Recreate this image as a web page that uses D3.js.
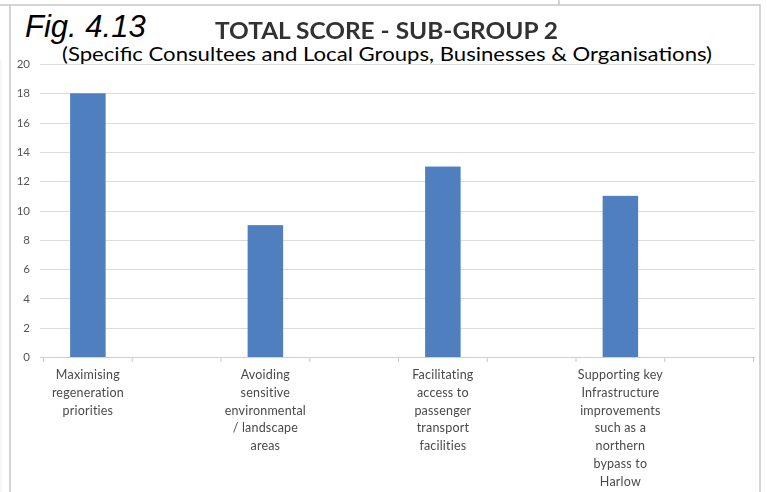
<!DOCTYPE html>
<html>
<head>
<meta charset="utf-8">
<script src="https://cdn.jsdelivr.net/npm/d3@7/dist/d3.min.js"></script>
<style>
  html, body { margin: 0; padding: 0; background: #fff; }
  svg { display: block; }
</style>
</head>
<body>
<svg id="chart" width="767" height="492"></svg>
<script>
// Category slots (the blank slots sit between the scored options)
const categories = [
  "Maximising\nregeneration\npriorities",
  "",
  "Avoiding\nsensitive\nenvironmental\n/ landscape\nareas",
  "",
  "Facilitating\naccess to\npassenger\ntransport\nfacilities",
  "",
  "Supporting key\nInfrastructure\nimprovements\nsuch as a\nnorthern\nbypass to\nHarlow",
  ""
];
const scores = [18, null, 9, null, 13, null, 11, null];
const yTicks = [0, 2, 4, 6, 8, 10, 12, 14, 16, 18, 20];

const figLabel = "Fig. 4.13";
const title = "TOTAL SCORE - SUB-GROUP 2";
const subtitle = "(Specific Consultees and Local Groups, Businesses & Organisations)";

const svg = d3.select("#chart");

// soft rendering for the chart text and bars
const defs = svg.append("defs");
defs.append("filter").attr("id", "soft").attr("x", "-5%").attr("y", "-20%").attr("width", "110%").attr("height", "140%")
  .append("feGaussianBlur").attr("stdDeviation", 0.45);

// outer frame
const frame = svg.append("g").attr("stroke", "#c6c6c6").attr("stroke-width", 1.5).attr("fill", "none");
frame.append("path").attr("d", "M0,5H760V492");
frame.append("path").attr("d", "M10,5V492");
frame.append("path").attr("d", "M559,0V5");
svg.append("path").attr("d", "M1,60V492").attr("stroke", "#ececec").attr("stroke-width", 1);

// scales
const x = d3.scaleBand().domain(d3.range(categories.length)).range([43.5, 753.5]).paddingInner(0).paddingOuter(0);
const y = d3.scaleLinear().domain([0, 20]).range([357, 64]);

// gridlines
svg.append("g").selectAll("line").data(yTicks.filter(d => d > 0)).join("line")
  .attr("x1", 40).attr("x2", 755)
  .attr("y1", d => Math.round(y(d)) + 0.5).attr("y2", d => Math.round(y(d)) + 0.5)
  .attr("stroke", "#dcdcdc").attr("stroke-width", 1.2);

// y axis labels
const yAxis = d3.axisLeft(y).tickValues(yTicks).tickSize(0).tickPadding(0);
const yg = svg.append("g").attr("transform", "translate(30,0)").call(yAxis).attr("filter", "url(#soft)");
yg.select(".domain").remove();
yg.selectAll("text").attr("font-family", "Lato, sans-serif").attr("font-size", 11.5).attr("fill", "#555");

// bars
const barW = x.bandwidth() * 0.4;
svg.append("g").attr("filter", "url(#soft)").selectAll("rect")
  .data(scores.map((v, i) => ({ i, v })).filter(d => d.v != null)).join("rect")
  .attr("x", d => x(d.i) + (x.bandwidth() - barW) / 2)
  .attr("width", barW)
  .attr("y", d => y(d.v))
  .attr("height", d => y(0) - y(d.v))
  .attr("fill", "#4f7fbe");

// category axis line and tick marks at slot boundaries
const bounds = d3.range(categories.length).map(i => x(i)).concat([x.range()[1]]);
const xa = svg.append("g").attr("stroke", "#cfcfcf").attr("stroke-width", 1.2);
xa.append("line").attr("x1", 40).attr("x2", 755).attr("y1", y(0) + 0.5).attr("y2", y(0) + 0.5);
xa.selectAll("line.tick").data(bounds).join("line").attr("class", "tick")
  .attr("x1", d => d).attr("x2", d => d)
  .attr("y1", y(0)).attr("y2", y(0) + 5);

// category labels
const lab = svg.append("g").attr("filter", "url(#soft)")
  .attr("font-family", "Lato, sans-serif").attr("font-size", 12.5).attr("fill", "#4a4a4a")
  .attr("text-anchor", "middle").attr("letter-spacing", 0.2);
categories.forEach((c, i) => {
  if (!c) return;
  const t = lab.append("text").attr("x", x(i) + x.bandwidth() / 2).attr("y", 379);
  c.split("\n").forEach((line, k) => {
    t.append("tspan").attr("x", x(i) + x.bandwidth() / 2).attr("dy", k === 0 ? 0 : 17.8).text(line);
  });
});

// headings
svg.append("text").attr("x", 25).attr("y", 37)
  .attr("font-family", "'Liberation Sans', Arial, sans-serif").attr("font-style", "italic")
  .attr("font-size", 31).attr("fill", "#000").text(figLabel);

svg.append("text").attr("x", 215).attr("y", 39).attr("filter", "url(#soft)")
  .attr("font-family", "Lato, sans-serif").attr("font-weight", "bold")
  .attr("font-size", 22).attr("fill", "#333")
  .attr("textLength", 343).attr("lengthAdjust", "spacingAndGlyphs").text(title);

svg.append("text").attr("x", 62).attr("y", 61)
  .attr("font-family", "Lato, sans-serif").attr("font-size", 19).attr("fill", "#000")
  .attr("textLength", 650).attr("lengthAdjust", "spacingAndGlyphs").text(subtitle);
</script>
</body>
</html>
